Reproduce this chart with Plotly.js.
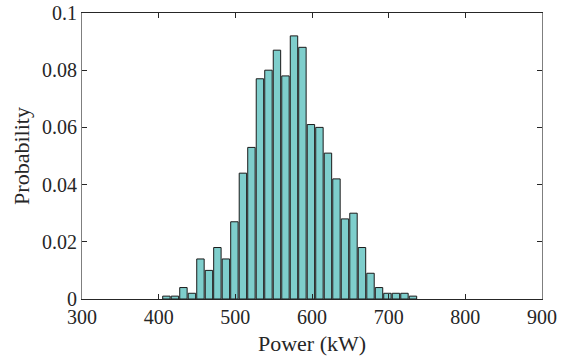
<!DOCTYPE html>
<html>
<head>
<meta charset="utf-8">
<script src="https://cdn.plot.ly/plotly-3.0.1.min.js"></script>
<style>html,body{margin:0;padding:0;background:#fff;}#chart{width:569px;height:359px;}</style>
</head>
<body>
<div id="chart"></div>
<script>
// Bin centres (kW) and probabilities
const powerBins = [410.1, 421.2, 432.3, 443.4, 454.5, 465.6, 476.6, 487.7, 498.8, 509.9,
                   521.0, 532.1, 543.2, 554.3, 565.4, 576.5, 587.5, 598.6, 609.7, 620.8,
                   631.9, 643.0, 654.1, 665.2, 676.3, 687.4, 698.4, 709.5, 720.6, 731.7];
const probability = [0.001, 0.001, 0.004, 0.002, 0.014, 0.010, 0.018, 0.014, 0.027, 0.044,
                     0.053, 0.077, 0.080, 0.087, 0.078, 0.092, 0.088, 0.061, 0.060, 0.051,
                     0.042, 0.028, 0.030, 0.018, 0.009, 0.004, 0.002, 0.002, 0.002, 0.001];
const xTicks = [300, 400, 500, 600, 700, 800, 900];
const yTicks = [0, 0.02, 0.04, 0.06, 0.08, 0.1];
const yTickText = ['0', '0.02', '0.04', '0.06', '0.08', '0.1'];

const font = 'Liberation Serif, Times New Roman, serif';

const trace = {
  type: 'bar',
  x: powerBins,
  y: probability,
  marker: {color: 'rgb(126,206,204)', line: {color: '#1a1a1a', width: 1}},
  hoverinfo: 'skip'
};

const layout = {
  width: 569, height: 359,
  margin: {l: 82, r: 27, t: 13, b: 60},
  paper_bgcolor: '#fff', plot_bgcolor: '#fff',
  bargap: 0.12,
  showlegend: false,
  font: {family: font, color: '#262626'},
  xaxis: {
    range: [300, 900], tickvals: xTicks, ticktext: xTicks.map(String),
    ticks: 'inside', ticklen: 5, tickcolor: '#262626', tickwidth: 1,
    showline: true, linecolor: '#262626', linewidth: 1, mirror: 'allticks',
    showgrid: false, zeroline: false,
    tickfont: {family: font, size: 20, color: '#262626'},
    title: {text: 'Power (kW)', font: {family: font, size: 22, color: '#262626'}, standoff: 8}
  },
  yaxis: {
    range: [0, 0.1], tickvals: yTicks, ticktext: yTickText,
    ticks: 'inside', ticklen: 5, tickcolor: '#262626', tickwidth: 1,
    showline: true, linecolor: '#7f7f7f', linewidth: 1, mirror: 'allticks',
    showgrid: false, zeroline: false,
    tickfont: {family: font, size: 20, color: '#262626'},
    title: {text: 'Probability', font: {family: font, size: 22, color: '#262626'}, standoff: 6}
  }
};

Plotly.newPlot('chart', [trace], layout, {displayModeBar: false, staticPlot: true});
</script>
</body>
</html>
